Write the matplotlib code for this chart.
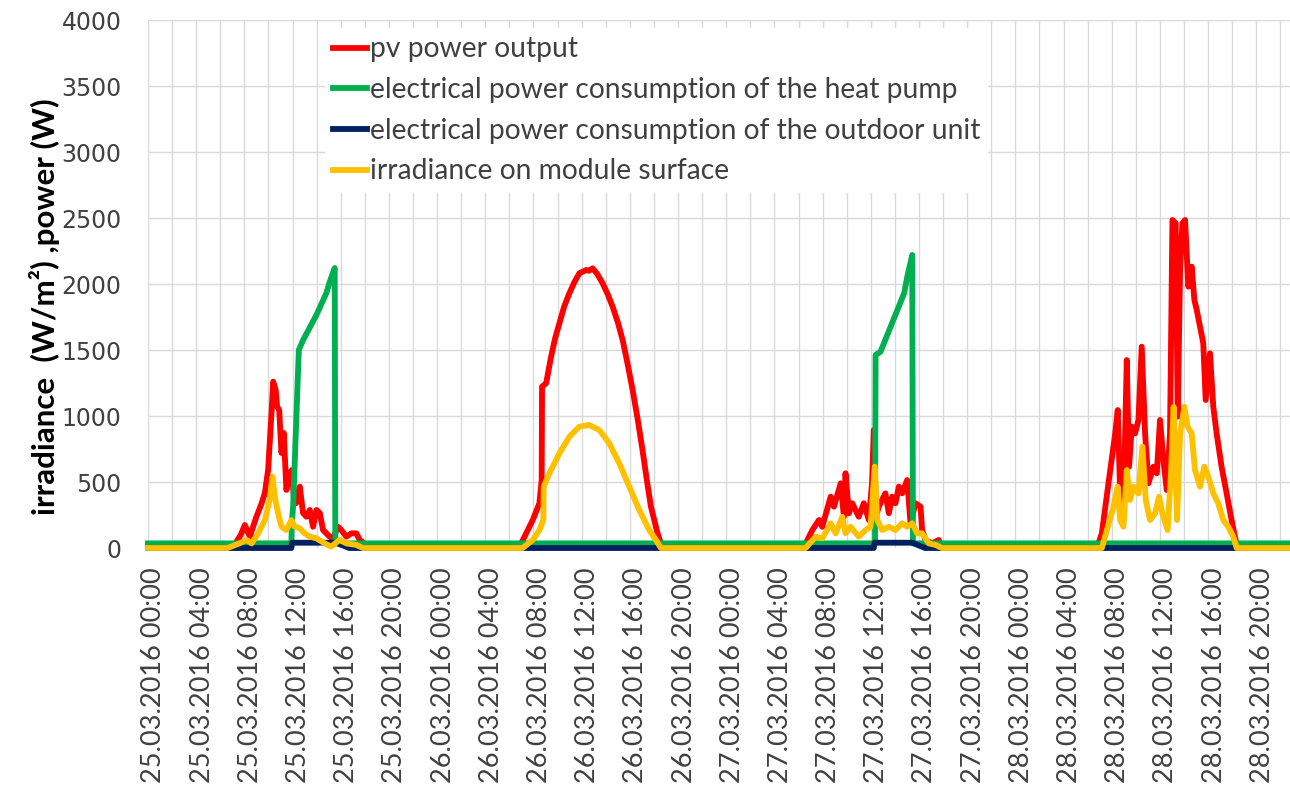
import pandas as pd
import matplotlib
matplotlib.use('Agg')
import matplotlib.pyplot as plt
import matplotlib.dates as mdates
import matplotlib.transforms as mtransforms

# hours since 25.03.2016 00:00 and values
red_hours = [0, 6.8, 7.3, 7.7, 8.04, 8.45, 9.0, 9.4, 9.7, 9.97, 10.25, 10.39, 10.6, 10.72, 10.89, 11.08, 11.27,
             11.49, 11.77, 11.94, 12.1, 12.3, 12.6, 12.87, 13.15, 13.43, 13.7, 13.98, 14.26, 14.53, 15.08, 15.36,
             15.77, 16.05, 16.47, 16.88, 17.3, 17.57, 18.13, 18.7,
             30.8, 31.39, 31.94, 32.49, 32.68, 32.71, 33.05, 33.46, 33.8, 34.15, 34.55, 34.98, 35.4, 35.81, 36.36,
             36.6, 36.91, 37.3, 37.74, 38.15, 38.57, 39.0, 39.4, 39.8, 40.23, 40.65, 41.05, 41.4, 41.75, 42.3,
             42.58, 42.7,
             54.4, 54.6, 55.15, 55.7, 55.97, 56.67, 56.94, 57.5, 57.77, 57.9, 58.19, 58.46, 59.0, 59.42, 59.84, 60.1,
             60.25, 60.44, 60.66, 61.21, 61.5, 61.77, 62.05, 62.33, 62.6, 63.02, 63.3, 63.71, 64.13, 64.26, 64.54,
             65.09, 65.64, 65.9,
             78.7, 78.9, 79.18, 79.73, 80.29, 80.5, 80.7, 80.98, 81.25, 81.44, 81.67, 81.94, 82.22, 82.49, 82.77,
             83.05, 83.46, 83.74, 84.01, 84.29, 84.57, 84.84, 85.04, 85.31, 85.48, 85.68, 85.87, 86.09, 86.36, 86.64,
             86.86, 87.06, 87.33, 87.6, 87.8, 88.16, 88.43, 88.71, 89.12, 89.54, 89.95, 90.23, 90.45, 95.8]
red_values = [0, 0, 40, 100, 174, 86, 237, 330, 416, 590, 1020, 1260, 1197, 1070, 1045, 720, 871,
              440, 567, 590, 389, 340, 465, 265, 237, 288, 161, 288, 265, 136, 86, 72,
              161, 136, 86, 111, 111, 61, 23, 0,
              0, 111, 212, 339, 515, 1222, 1248, 1449, 1590, 1702, 1830, 1930, 2015, 2081, 2106,
              2100, 2119, 2075, 2005, 1925, 1828, 1710, 1576, 1400, 1197, 975, 742, 520, 313, 111,
              35, 0,
              0, 35, 136, 212, 161, 389, 313, 490, 237, 566, 263, 339, 237, 339, 212, 490,
              894, 237, 313, 414, 263, 389, 339, 465, 414, 515, 187, 339, 313, 136, 61,
              35, 61, 0,
              0, 35, 111, 490, 868, 1045, 414, 313, 1424, 616, 919, 868, 970, 1525, 868,
              490, 616, 566, 970, 667, 439, 868, 2485, 2460, 995, 2131, 2460, 2485, 1980, 2131,
              1879, 1803, 1677, 1551, 1121, 1475, 1070, 868, 616, 414, 212, 86, 0, 0]

heat_pump_hours = [0, 11.9, 11.95, 12.05, 12.52, 12.88, 13.98, 14.81, 15.08, 15.5, 15.55,
                   60.35, 60.4, 60.81, 62.77, 63.03, 63.44, 63.5, 95.8]
heat_pump_values = [35, 35, 200, 320, 1500, 1576, 1765, 1932, 2015, 2121, 35,
                    35, 1462, 1487, 1930, 2055, 2220, 35, 35]

outdoor_hours = [0, 11.9, 11.95, 15.6, 16.7, 60.25, 60.3, 63.45, 64.5, 95.8]
outdoor_values = [0, 0, 40, 40, 0, 0, 40, 40, 0, 0]

irr_hours = [0, 6.6, 7.6, 8.18, 8.6, 9.15, 9.7, 10.1, 10.33, 10.53, 10.8, 11.08, 11.49, 11.9, 12.18, 12.6,
             13.0, 13.43, 13.98, 14.67, 15.2, 15.9, 16.47, 17.3, 17.85,
             31.1, 31.94, 32.49, 32.82, 32.85, 33.32, 34.15, 34.98, 35.81, 36.63, 37.46, 38.29, 39.12, 39.95,
             40.78, 41.61, 42.16, 42.58,
             54.6, 55.42, 55.97, 56.67, 57.08, 57.63, 57.9, 58.32, 59.0, 59.56, 59.98, 60.33, 60.53, 60.95,
             61.5, 62.05, 62.6, 63.02, 63.44, 63.85, 64.26, 64.82, 65.37, 65.9,
             79.18, 79.6, 80.15, 80.5, 80.7, 80.98, 81.25, 81.53, 81.8, 82.22, 82.55, 82.82, 83.18, 83.6,
             83.93, 84.2, 84.64, 84.92, 85.14, 85.42, 85.68, 86.03, 86.3, 86.64, 86.91, 87.33, 87.69, 88.02,
             88.43, 88.84, 89.26, 89.67, 90.09, 90.37, 95.8]
irr_values = [0, 0, 35, 61, 35, 111, 212, 364, 540, 389, 263, 161, 136, 212, 161, 149,
              111, 86, 73, 35, 10, 61, 35, 23, 0,
              0, 61, 136, 212, 465, 566, 717, 843, 919, 932, 894, 793, 642, 465,
              288, 136, 61, 0,
              0, 86, 73, 187, 111, 237, 111, 161, 86, 136, 161, 616, 212, 136,
              161, 136, 187, 161, 187, 111, 111, 35, 23, 0,
              0, 136, 313, 465, 212, 161, 591, 364, 465, 414, 768, 364, 212, 263,
              389, 263, 136, 566, 1070, 212, 868, 1070, 919, 868, 591, 465, 616, 540,
              414, 339, 212, 161, 86, 0, 0]

labels = ['pv power output',
          'electrical power consumption of the heat pump',
          'electrical power consumption of the outdoor unit',
          'irradiance on module surface']
colors = ['#FF0000', '#00B050', '#002060', '#FFC000']

start = pd.Timestamp('2016-03-25 00:00')


def to_time(hours):
    return start + pd.to_timedelta(hours, unit='h')


fig = plt.figure(figsize=(12.9, 7.87), dpi=100)
ax = fig.add_axes([148 / 1290, 1 - 548 / 787, 1 - 148 / 1290, 528 / 787])

series = [(red_hours, red_values), (heat_pump_hours, heat_pump_values),
          (outdoor_hours, outdoor_values), (irr_hours, irr_values)]
for i, ((h, v), lab, c) in enumerate(zip(series, labels, colors)):
    ax.plot(to_time(h), v, color=c, lw=4.2, label=lab, zorder=3 + i,
            solid_joinstyle='round', clip_on=False)

ax.set_xlim(start, to_time(94.8))
ax.set_ylim(0, 4000)
ax.set_yticks(range(0, 4001, 500))

ax.xaxis.set_major_locator(mdates.HourLocator(byhour=range(0, 24, 4)))
ax.xaxis.set_minor_locator(mdates.HourLocator(byhour=range(0, 24, 2)))
ax.xaxis.set_major_formatter(mdates.DateFormatter('%d.%m.%Y %H:%M'))

ax.grid(which='both', axis='x', color='#D9D9D9', lw=1)
ax.grid(which='major', axis='y', color='#D9D9D9', lw=1)
ax.set_axisbelow(True)
for s in ax.spines.values():
    s.set_visible(False)

ax.tick_params(axis='both', which='both', length=0)
ax.tick_params(axis='x', pad=14)
ax.tick_params(axis='y', pad=19)
shift = mtransforms.ScaledTranslation(6 / 100, 0, fig.dpi_scale_trans)
for t in ax.get_xticklabels():
    t.set_rotation(90)
    t.set_fontfamily('Lato')
    t.set_fontsize(19.5)
    t.set_color('#404040')
    t.set_transform(t.get_transform() + shift)
for t in ax.get_yticklabels():
    t.set_fontfamily('DejaVu Sans')
    t.set_fontsize(17)
    t.set_color('#404040')

fig.text(45 / 1290, 1 - 307 / 787, 'irradiance  (W/m²) ,power (W)', rotation=90,
         ha='center', va='center', fontsize=22.5, fontweight='bold',
         family='Lato', color='black')

leg = ax.legend(loc='upper left', bbox_to_anchor=((325 - 148) / 1142, 1 - 8 / 528),
                borderaxespad=0, frameon=True, fancybox=False, framealpha=1,
                edgecolor='none', facecolor='white', handlelength=1.2,
                handletextpad=0.08, labelspacing=0.52, borderpad=0.3,
                prop={'family': 'Lato', 'size': 20.3})
for t in leg.get_texts():
    t.set_color('#404040')
for lh in leg.get_lines():
    lh.set_linewidth(4.2)
leg.set_zorder(10)

fig.savefig('out.png', dpi=100)
